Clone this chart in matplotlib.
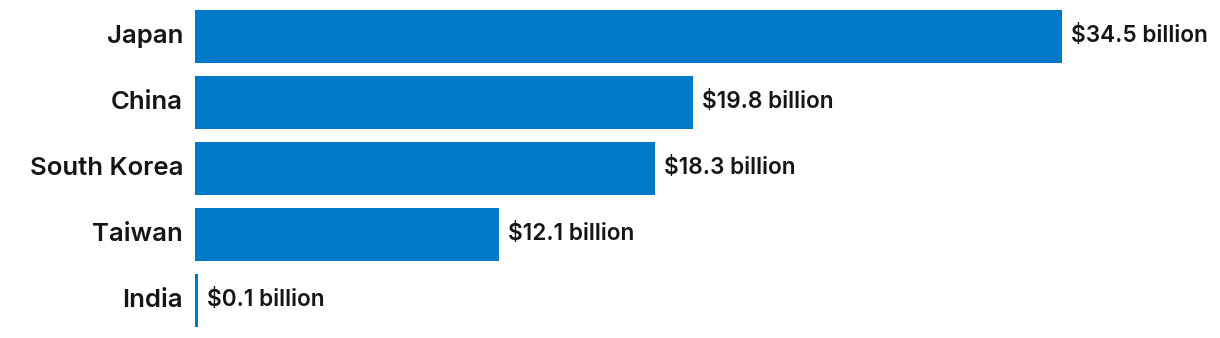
import matplotlib
matplotlib.use("Agg")
import matplotlib.pyplot as plt

# ── Data ──────────────────────────────────────────────────────────────────────
countries = ["Japan", "China", "South Korea", "Taiwan", "India"]
values = [34.5, 19.8, 18.3, 12.1, 0.1]
value_labels = ["$34.5 billion", "$19.8 billion", "$18.3 billion",
                "$12.1 billion", "$0.1 billion"]

BAR_COLOR = "#0079C8"
FONT = ["Inter", "DejaVu Sans"]

W, H, DPI = 1220, 338, 100
fig = plt.figure(figsize=(W / DPI, H / DPI), dpi=DPI)

# axes spans from bar baseline to right edge; 25.13 px per billion
left_px = 195
ax = fig.add_axes([left_px / W, 0, (W - left_px) / W, 1])
ax.set_xlim(0, (W - left_px) / 25.13)
ax.set_ylim(4 + 37.5 / 66, -36.5 / 66)

pos = range(len(countries))
ax.barh(pos, values, height=0.8, color=BAR_COLOR, linewidth=0)

for i, (v, lab) in enumerate(zip(values, value_labels)):
    ax.annotate(lab, (v, i), xytext=(9, 0), textcoords="offset pixels",
                va="center", ha="left", fontsize=16.3, fontweight="semibold",
                family=FONT, color="#151515")
    ax.annotate(countries[i], (0, i), xytext=(-12, 0), textcoords="offset pixels",
                va="center", ha="right", fontsize=18.5, fontweight="semibold",
                family=FONT, color="#151515", annotation_clip=False)

ax.axis("off")
fig.savefig("out.png", dpi=DPI, facecolor="white")
